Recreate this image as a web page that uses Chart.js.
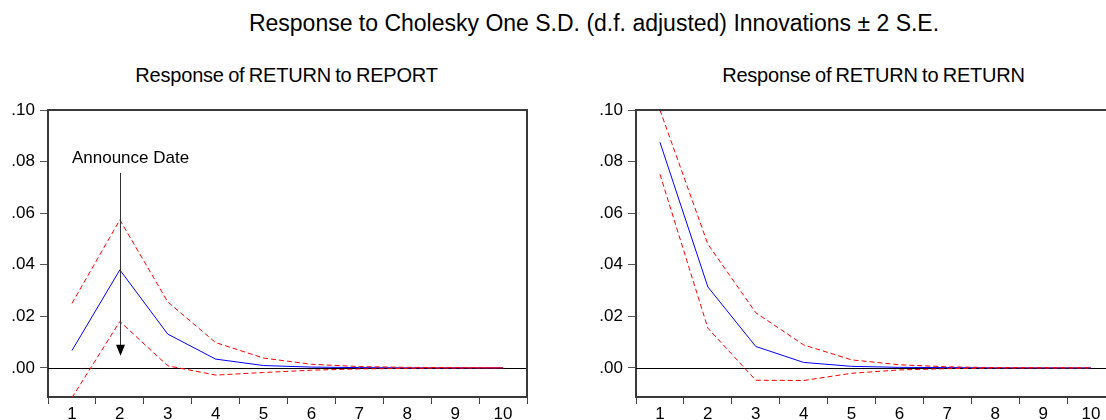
<!DOCTYPE html>
<html>
<head>
<meta charset="utf-8">
<script src="https://cdn.jsdelivr.net/npm/chart.js@4.4.1/dist/chart.umd.min.js"></script>
<style>
  html, body { margin:0; padding:0; width:1106px; height:420px; overflow:hidden; background:#fff; }
  body { position:relative; font-family:"Liberation Sans", Arial, sans-serif; color:#000; }
  .title { position:absolute; left:0; width:1188px; top:12px; text-align:center; font-size:23px; line-height:1; white-space:nowrap; }
  .sub { position:absolute; top:65px; font-size:20px; line-height:1; text-align:center; white-space:nowrap; letter-spacing:-0.2px; word-spacing:-1px; }
  canvas { position:absolute; top:0; }
</style>
</head>
<body>
<div class="title">Response to Cholesky One S.D. (d.f. adjusted) Innovations ± 2 S.E.</div>
<div class="sub" style="left:48px;width:477px;">Response of RETURN to REPORT</div>
<div class="sub" style="left:636px;width:475px;">Response of RETURN to RETURN</div>
<canvas id="c1" width="540" height="420" style="left:0px;"></canvas>
<canvas id="c2" width="540" height="420" style="left:588px;"></canvas>
<script>
const periods = ['1','2','3','4','5','6','7','8','9','10'];
const yTicks = [0, 0.02, 0.04, 0.06, 0.08, 0.10];
const yTickLabels = ['.00', '.02', '.04', '.06', '.08', '.10'];

// Response of RETURN to REPORT
const reportMid   = [0.0067, 0.0380, 0.0131, 0.0034, 0.0009, 0.0003, 0.0001, 0.0000, 0.0000, 0.0000];
const reportUpper = [0.0250, 0.0574, 0.0256, 0.0098, 0.0038, 0.0014, 0.0005, 0.0002, 0.0001, 0.0000];
const reportLower = [-0.0116, 0.0180, 0.0008, -0.0028, -0.0018, -0.0009, -0.0004, -0.0002, -0.0001, 0.0000];

// Response of RETURN to RETURN
const returnMid   = [0.0875, 0.0314, 0.0083, 0.0021, 0.0006, 0.0002, 0.0001, 0.0000, 0.0000, 0.0000];
const returnUpper = [0.1000, 0.0480, 0.0214, 0.0089, 0.0031, 0.0012, 0.0004, 0.0001, 0.0000, 0.0000];
const returnLower = [0.0751, 0.0154, -0.0048, -0.0049, -0.0021, -0.0008, -0.0003, -0.0001, 0.0000, 0.0000];

// annotation (data units)
const announceLabel = 'Announce Date';
const announceCategory = '2';
const announceTextAt = { x: '1', y: 0.0814 };
const announceArrowFrom = 0.0756;
const announceArrowTo = 0.0047;

const Y_MIN = -0.0113, Y_MAX = 0.10;
const FONT = '"Liberation Sans", Arial, sans-serif';

const framePlugin = {
  id: 'frame',
  beforeDatasetsDraw(chart) {
    const {ctx, chartArea: a, scales} = chart;
    const y0 = scales.y.getPixelForValue(0);
    ctx.save();
    ctx.strokeStyle = '#000';
    ctx.lineWidth = 1;
    ctx.beginPath();
    ctx.moveTo(a.left, Math.round(y0) + 0.5);
    ctx.lineTo(a.right, Math.round(y0) + 0.5);
    ctx.stroke();
    ctx.restore();
  },
  afterDraw(chart) {
    const {ctx, chartArea: a} = chart;
    ctx.save();
    ctx.strokeStyle = '#3a3a3a';
    ctx.lineWidth = 2;
    ctx.beginPath();
    ctx.moveTo(a.left, a.top);
    ctx.lineTo(a.right, a.top);
    ctx.lineTo(a.right, a.bottom);
    ctx.stroke();
    ctx.restore();
  }
};

const annotationPlugin = {
  id: 'announce',
  afterDatasetsDraw(chart, args, opts) {
    if (!opts.enabled) return;
    const {ctx, scales} = chart;
    const x = Math.round(scales.x.getPixelForValue(periods.indexOf(announceCategory))) + 0.5;
    const yTop = scales.y.getPixelForValue(announceArrowFrom);
    const yTip = scales.y.getPixelForValue(announceArrowTo);
    ctx.save();
    ctx.strokeStyle = '#333';
    ctx.fillStyle = '#000';
    ctx.lineWidth = 1;
    ctx.beginPath();
    ctx.moveTo(x, yTop);
    ctx.lineTo(x, yTip - 8);
    ctx.stroke();
    ctx.beginPath();
    ctx.moveTo(x - 4.5, yTip - 11);
    ctx.lineTo(x + 4.5, yTip - 11);
    ctx.lineTo(x, yTip);
    ctx.closePath();
    ctx.fill();
    ctx.font = '17px ' + FONT;
    ctx.textAlign = 'left';
    ctx.textBaseline = 'middle';
    const tx = scales.x.getPixelForValue(periods.indexOf(announceTextAt.x));
    const ty = scales.y.getPixelForValue(announceTextAt.y);
    ctx.fillText(announceLabel, tx, ty);
    ctx.restore();
  }
};

function makeChart(id, mid, upper, lower, showAnnotation) {
  const dashed = (data) => ({
    data, borderColor: '#ff0000', borderWidth: 1, borderDash: [5, 3],
    pointRadius: 0, fill: false, tension: 0
  });
  return new Chart(document.getElementById(id), {
    type: 'line',
    data: {
      labels: periods,
      datasets: [
        dashed(upper),
        dashed(lower),
        { data: mid, borderColor: '#0000ff', borderWidth: 1, pointRadius: 0, fill: false, tension: 0 }
      ]
    },
    options: {
      responsive: false,
      animation: false,
      devicePixelRatio: 1,
      layout: { padding: { top: 110, right: 13, left: 0, bottom: 0 } },
      plugins: {
        legend: { display: false },
        tooltip: { enabled: false },
        title: { display: false },
        announce: { enabled: showAnnotation }
      },
      scales: {
        x: {
          type: 'category',
          offset: true,
          grid: { offset: true, drawOnChartArea: false, drawTicks: true, tickLength: 7, color: '#444', lineWidth: 1 },
          border: { display: true, color: '#3a3a3a', width: 2 },
          ticks: { color: '#000', padding: 2, maxRotation: 0, autoSkip: false,
                   font: { family: FONT, size: 17, lineHeight: 1 } },
          afterFit(scale) { scale.height = 23; }
        },
        y: {
          min: Y_MIN, max: Y_MAX,
          grid: { drawOnChartArea: false, drawTicks: true, tickLength: 8, color: '#555', lineWidth: 1 },
          border: { display: true, color: '#3a3a3a', width: 2 },
          afterBuildTicks(scale) { scale.ticks = yTicks.map(v => ({ value: v })); },
          ticks: { color: '#000', padding: 5,
                   font: { family: FONT, size: 17 },
                   callback: (v) => { const i = yTicks.findIndex(t => Math.abs(t - v) < 1e-9); return i >= 0 ? yTickLabels[i] : ''; } },
          afterFit(scale) { scale.width = 48; }
        }
      }
    },
    plugins: [framePlugin, annotationPlugin]
  });
}

makeChart('c1', reportMid, reportUpper, reportLower, true);
makeChart('c2', returnMid, returnUpper, returnLower, false);
</script>
</body>
</html>
